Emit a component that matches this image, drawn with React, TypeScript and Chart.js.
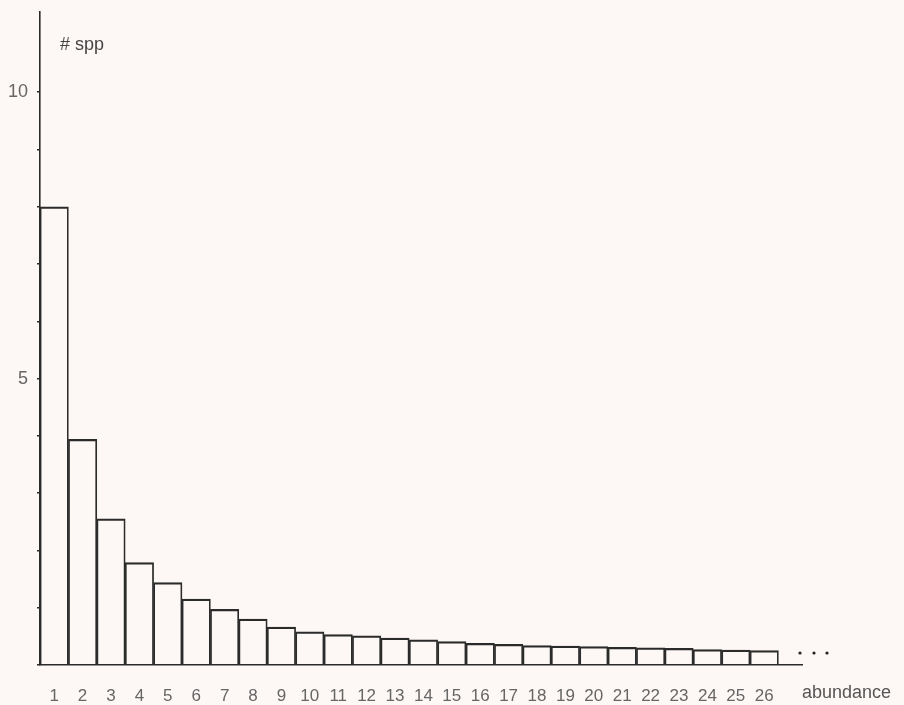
import React, { useEffect, useRef } from 'react';
import { Chart, registerables } from 'chart.js';

Chart.register(...registerables);

// Data
const abundance = [1, 2, 3, 4, 5, 6, 7, 8, 9, 10, 11, 12, 13, 14, 15, 16, 17, 18, 19, 20, 21, 22, 23, 24, 25, 26];
const species = [8, 3.94, 2.55, 1.79, 1.44, 1.15, 0.97, 0.8, 0.66, 0.58, 0.53, 0.51, 0.47, 0.44, 0.41, 0.38, 0.36, 0.34, 0.33, 0.32, 0.31, 0.3, 0.29, 0.27, 0.26, 0.25];
const yTickValues = [0, 1, 2, 3, 4, 5, 6, 7, 8, 9, 10];
const yLabelledTicks = [5, 10];
const yAxisTitle = '# spp';
const xAxisTitle = 'abundance';

const BG = '#fdf7f5';
const INK = '#2b2b2b';
const LABEL = '#666666';
const FONT = '"Liberation Sans", Arial, sans-serif';

const annotations = {
  id: 'annotations',
  afterDraw(chart: any) {
    const { ctx, chartArea } = chart;
    ctx.save();
    ctx.fillStyle = '#444444';
    ctx.font = `18px ${FONT}`;
    ctx.textAlign = 'left';
    ctx.textBaseline = 'alphabetic';
    ctx.fillText(yAxisTitle, chartArea.left + 20, 50);
    ctx.fillStyle = '#555555';
    ctx.fillText(xAxisTitle, chartArea.right, 698);
    ctx.fillStyle = '#222222';
    [-2, 12, 25].forEach((dx) => {
      ctx.beginPath();
      ctx.arc(chartArea.right + dx, chartArea.bottom - 12, 1.6, 0, Math.PI * 2);
      ctx.fill();
    });
    ctx.restore();
  },
};

export default function App() {
  const ref = useRef<HTMLCanvasElement>(null);
  useEffect(() => {
    document.body.style.margin = '0';
    document.body.style.background = BG;
    const chart = new Chart(ref.current as HTMLCanvasElement, {
      type: 'bar',
      data: {
        datasets: [
          {
            data: abundance.map((a, i) => ({ x: a, y: species[i] })),
            backgroundColor: 'rgba(0,0,0,0)',
            borderColor: INK,
            borderWidth: { top: 1.6, left: 1.1, right: 1.1, bottom: 0 },
            borderSkipped: 'start',
            barPercentage: 1,
            categoryPercentage: 1,
          } as any,
        ],
      },
      options: {
        animation: false,
        responsive: false,
        devicePixelRatio: 1,
        layout: { padding: { top: 12, right: 102, left: 0, bottom: 0 } },
        plugins: { legend: { display: false }, tooltip: { enabled: false } },
        scales: {
          x: {
            type: 'linear',
            min: 0.5,
            max: 27.33,
            offset: false,
            afterFit: (s: any) => { s.height = 40; s.paddingLeft = 0; s.paddingRight = 0; },
            afterBuildTicks: (s: any) => { s.ticks = abundance.map((v) => ({ value: v })); },
            grid: { display: false, drawTicks: false },
            border: { display: true, color: INK, width: 1.6 },
            ticks: {
              autoSkip: false,
              maxRotation: 0,
              padding: 21,
              color: LABEL,
              font: { family: FONT, size: 17 },
              callback: (v: any) => String(v),
            },
          },
          y: {
            type: 'linear',
            min: 0,
            max: 11.4,
            afterFit: (s: any) => { s.width = 40; s.paddingTop = 0; s.paddingBottom = 0; },
            afterBuildTicks: (s: any) => { s.ticks = yTickValues.map((v) => ({ value: v })); },
            grid: { drawOnChartArea: false, drawTicks: true, tickLength: 3, color: INK, lineWidth: 1.6 },
            border: { display: true, color: INK, width: 1.6 },
            ticks: {
              padding: 9,
              color: LABEL,
              font: { family: FONT, size: 18 },
              callback: (v: any) => (yLabelledTicks.includes(Number(v)) ? String(v) : ''),
            },
          },
        },
      },
      plugins: [annotations],
    });
    return () => chart.destroy();
  }, []);
  return (
    <canvas
      ref={ref}
      width={904}
      height={705}
      style={{ display: 'block', width: 904, height: 705, background: BG }}
    />
  );
}
